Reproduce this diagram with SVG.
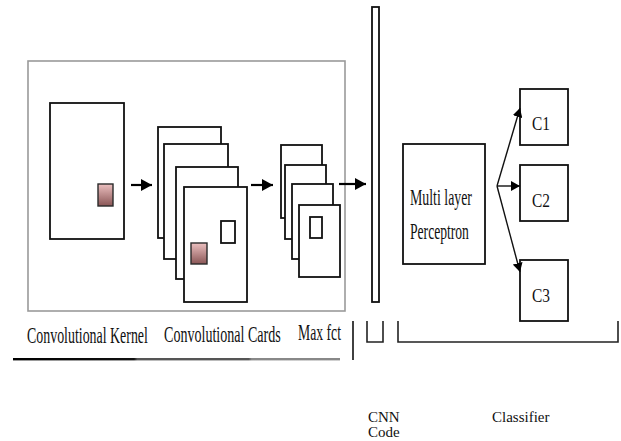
<svg xmlns="http://www.w3.org/2000/svg" width="621" height="441" viewBox="0 0 621 441">
  <style>
    .box { fill: #fff; stroke: #111; stroke-width: 1.8; }
    .frame { fill: none; stroke: #9a9a9a; stroke-width: 1.6; }
    .patch { fill: url(#patchFill); stroke: #2a2a2a; stroke-width: 1.4; }
    .arrow { stroke: #000; stroke-width: 2.2; fill: none; marker-end: url(#head); }
    .fan { stroke: #111; stroke-width: 1.4; fill: none; marker-end: url(#headSmall); }
    .bracket { fill: none; stroke: #222; stroke-width: 1.6; }
    .lbl { font-family: "Liberation Serif", "Times New Roman", serif; font-size: 23px; fill: #111; }
    .cls { font-family: "Liberation Serif", "Times New Roman", serif; font-size: 19px; fill: #111; }
    .cap { font-family: "Liberation Serif", "Times New Roman", serif; font-size: 15px; fill: #111; }
  </style>
  <defs>
    <linearGradient id="patchFill" x1="0" y1="0" x2="0" y2="1">
      <stop offset="0" stop-color="#ecc0c0"/>
      <stop offset="1" stop-color="#8a5656"/>
    </linearGradient>
    <linearGradient id="rule" x1="0" y1="0" x2="1" y2="0">
      <stop offset="0" stop-color="#000"/>
      <stop offset="0.37" stop-color="#111"/>
      <stop offset="0.38" stop-color="#555"/>
      <stop offset="0.72" stop-color="#555"/>
      <stop offset="0.73" stop-color="#888"/>
      <stop offset="1" stop-color="#888"/>
    </linearGradient>
    <marker id="head" markerUnits="userSpaceOnUse" markerWidth="11" markerHeight="12" refX="11" refY="6" orient="auto">
      <path d="M0,0 L11,6 L0,12 Z" fill="#000"/>
    </marker>
    <marker id="headSmall" markerUnits="userSpaceOnUse" markerWidth="9" markerHeight="10" refX="9" refY="5" orient="auto">
      <path d="M0,0 L9,5 L0,10 Z" fill="#000"/>
    </marker>
  </defs>

  <rect width="621" height="441" fill="#fff"/>

  <!-- feature-extraction frame -->
  <rect id="frame" class="frame" x="28" y="61" width="317" height="250"/>

  <!-- input image with kernel patch -->
  <g id="input">
    <rect class="box" x="50" y="103" width="74" height="136"/>
    <rect class="patch" x="98" y="184" width="15" height="22"/>
  </g>

  <!-- stack of convolution maps -->
  <g id="conv-maps">
    <rect class="box" x="158" y="127" width="63" height="111"/>
    <rect class="box" x="164" y="144" width="64" height="115"/>
    <rect class="box" x="176" y="167" width="62" height="112"/>
    <rect class="box" x="184" y="187" width="63" height="115"/>
    <rect class="box" x="221" y="221" width="14" height="22" stroke-width="1.5"/>
    <rect class="patch" x="191" y="243" width="16" height="21"/>
  </g>

  <!-- stack of pooled maps -->
  <g id="pool-maps">
    <rect class="box" x="281" y="145" width="41" height="73"/>
    <rect class="box" x="285" y="165" width="41" height="74"/>
    <rect class="box" x="292" y="184" width="41" height="75"/>
    <rect class="box" x="299" y="205" width="41" height="72"/>
    <rect class="box" x="310" y="217" width="12" height="21" stroke-width="1.5"/>
  </g>

  <!-- flattened CNN code vector -->
  <g id="cnn-code">
    <rect class="box" x="372" y="7" width="7" height="295"/>
  </g>

  <!-- multilayer perceptron -->
  <g id="mlp">
    <rect class="box" x="403" y="144" width="82" height="120"/>
    <text class="lbl" transform="translate(410,205) scale(0.603,1)">Multi layer</text>
    <text class="lbl" transform="translate(410,239) scale(0.592,1)">Perceptron</text>
  </g>

  <!-- output classes -->
  <g id="c1">
    <rect class="box" x="520" y="89" width="48" height="56"/>
    <text class="cls" transform="translate(532,130) scale(0.81,1)">C1</text>
  </g>
  <g id="c2">
    <rect class="box" x="520" y="165" width="48" height="56"/>
    <text class="cls" transform="translate(532,207) scale(0.81,1)">C2</text>
  </g>
  <g id="c3">
    <rect class="box" x="520" y="260" width="48" height="61"/>
    <text class="cls" transform="translate(532,302) scale(0.81,1)">C3</text>
  </g>

  <!-- connectors -->
  <g id="connectors">
    <line class="arrow" x1="131" y1="185" x2="152" y2="185"/>
    <line class="arrow" x1="251" y1="185" x2="273" y2="185"/>
    <line class="arrow" x1="339" y1="184" x2="366" y2="184"/>
    <line class="fan" x1="497" y1="186" x2="520" y2="108"/>
    <line class="fan" x1="497" y1="186" x2="520" y2="186"/>
    <line class="fan" x1="497" y1="186" x2="520" y2="272"/>
  </g>

  <!-- stage labels and brackets -->
  <g id="stage-labels">
    <text class="lbl" transform="translate(27,343) scale(0.605,1)">Convolutional Kernel</text>
    <text class="lbl" transform="translate(164,342) scale(0.612,1)">Convolutional Cards</text>
    <text class="lbl" transform="translate(298,340) scale(0.596,1)">Max fct</text>
    <rect x="13" y="358" width="327" height="2.4" fill="url(#rule)"/>
    <line x1="353" y1="321" x2="353" y2="360" stroke="#111" stroke-width="1.6"/>
    <path class="bracket" d="M367,321 V342 H383 V321"/>
    <path class="bracket" d="M398,321 V342 H618 V321"/>
    <text class="cap" x="368" y="422">CNN</text>
    <text class="cap" x="368" y="437">Code</text>
    <text class="cap" x="492" y="422">Classifier</text>
  </g>
</svg>
